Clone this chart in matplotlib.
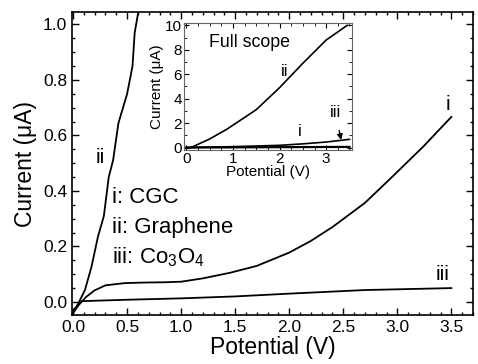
import matplotlib
matplotlib.use("Agg")
import matplotlib.pyplot as plt
from matplotlib.ticker import MultipleLocator

plt.rcParams["font.family"] = ["Liberation Sans", "DejaVu Sans"]
plt.rcParams["mathtext.fontset"] = "custom"
plt.rcParams["mathtext.rm"] = "Liberation Sans"
plt.rcParams["mathtext.it"] = "Liberation Sans:italic"

# curve i: CGC
v_cgc = [0.0, 0.05, 0.12, 0.2, 0.3, 0.48, 0.66, 0.85, 1.0, 1.2, 1.45, 1.7,
         2.0, 2.2, 2.4, 2.7, 2.95, 3.24, 3.5]
i_cgc = [-0.04, -0.012, 0.018, 0.042, 0.06, 0.068, 0.07, 0.071, 0.073, 0.085,
         0.105, 0.13, 0.178, 0.22, 0.27, 0.357, 0.45, 0.56, 0.667]

# curve ii: graphene (main view, clipped at top)
v_gr = [0.0, 0.05, 0.11, 0.17, 0.23, 0.285, 0.33, 0.37, 0.42, 0.5, 0.55, 0.57, 0.61]
i_gr = [-0.04, -0.004, 0.043, 0.126, 0.235, 0.31, 0.45, 0.51, 0.645, 0.75, 0.85,
        0.97, 1.06]

# curve iii: Co3O4
v_co = [0.0, 0.08, 0.5, 1.0, 1.5, 2.0, 2.7, 3.5]
i_co = [-0.03, 0.003, 0.008, 0.013, 0.02, 0.03, 0.043, 0.05]

# inset, full scope
v_gr_full = [0.1, 0.5, 0.87, 1.5, 2.0, 2.5, 3.0, 3.45]
i_gr_full = [0.0, 0.7, 1.5, 3.1, 4.9, 6.9, 8.8, 10.0]
v_cgc_full = [0.0, 1.0, 2.0, 2.5, 3.0, 3.5]
i_cgc_full = [0.0, 0.07, 0.18, 0.3, 0.45, 0.67]
v_co_full = [0.0, 1.0, 2.0, 3.5]
i_co_full = [0.0, 0.013, 0.03, 0.05]

fig = plt.figure(figsize=(4.78, 3.64), dpi=100)
ax = fig.add_axes([0.1506, 0.1346, 0.8389, 0.8324])

lw = 1.3
ax.plot(v_cgc, i_cgc, color="black", lw=lw)
ax.plot(v_gr, i_gr, color="black", lw=lw)
ax.plot(v_co, i_co, color="black", lw=lw)

ax.set_xlim(-0.01, 3.7)
ax.set_ylim(-0.047, 1.045)
ax.xaxis.set_major_locator(MultipleLocator(0.5))
ax.xaxis.set_minor_locator(MultipleLocator(0.1))
ax.yaxis.set_major_locator(MultipleLocator(0.2))
ax.yaxis.set_minor_locator(MultipleLocator(0.05))
ax.tick_params(which="both", direction="in", top=True, right=True,
               labelsize=12.5, width=1.0)
ax.tick_params(which="major", length=5)
ax.tick_params(which="minor", length=2.5)
ax.xaxis.set_major_formatter(plt.FormatStrFormatter("%.1f"))
ax.yaxis.set_major_formatter(plt.FormatStrFormatter("%.1f"))
for s in ax.spines.values():
    s.set_linewidth(1.2)
ax.set_xlabel("Potential (V)", fontsize=16.5, labelpad=1)
ax.set_ylabel("Current (\u03bcA)", fontsize=16.5, labelpad=4)

ax.text(0.25, 0.52, "ii", fontsize=15, ha="center", va="center")
ax.text(3.47, 0.71, "i", fontsize=15, ha="center", va="center")
ax.text(3.42, 0.10, "iii", fontsize=15, ha="center", va="center")
ax.text(0.36, 0.375, "i: CGC", fontsize=16, va="center")
ax.text(0.36, 0.27, "ii: Graphene", fontsize=16, va="center")
ax.text(0.36, 0.162, "iii: Co$_3$O$_4$", fontsize=16, va="center")

# inset
ins = fig.add_axes([0.385, 0.588, 0.351, 0.349])
ins.plot(v_gr_full, i_gr_full, color="black", lw=1.2)
ins.plot(v_cgc_full, i_cgc_full, color="black", lw=1.2)
ins.plot(v_co_full, i_co_full, color="black", lw=1.6)
ins.set_xlim(-0.05, 3.55)
ins.set_ylim(-0.2, 10.2)
ins.xaxis.set_major_locator(MultipleLocator(1))
ins.xaxis.set_minor_locator(MultipleLocator(0.25))
ins.yaxis.set_major_locator(MultipleLocator(2))
ins.yaxis.set_minor_locator(MultipleLocator(1))
ins.tick_params(which="both", direction="in", top=True, right=True,
                labelsize=11, pad=1.5, colors="black")
ins.tick_params(which="major", length=3.5)
ins.tick_params(which="minor", length=2)
for s in ins.spines.values():
    s.set_color("#666666")
ins.set_xlabel("Potential (V)", fontsize=11, labelpad=-1)
ins.set_ylabel("Current (\u03bcA)", fontsize=11, labelpad=1)
ins.text(0.49, 8.6, "Full scope", fontsize=12.8, va="center")
ins.text(2.1, 6.2, "ii", fontsize=12, ha="center", va="center")
ins.text(2.43, 1.3, "i", fontsize=12, ha="center", va="center")
ins.annotate("iii", xy=(3.32, 0.62), xytext=(3.2, 2.9), fontsize=12,
             ha="center", va="center",
             arrowprops=dict(arrowstyle="-|>", color="black", lw=1.0,
                             shrinkA=6, shrinkB=0, mutation_scale=8))

fig.savefig("out.png", dpi=100)
